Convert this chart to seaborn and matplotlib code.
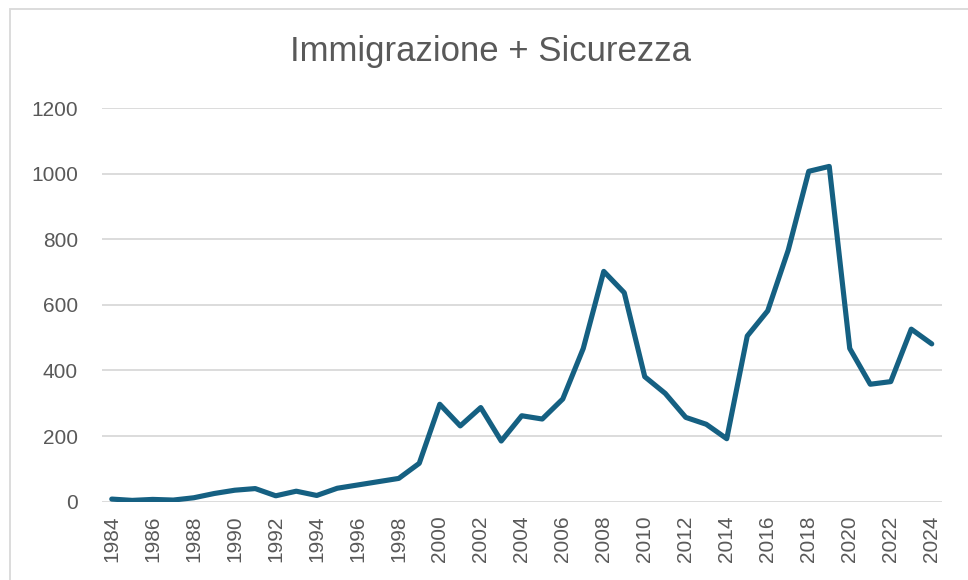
import matplotlib
matplotlib.use("Agg")
import matplotlib.pyplot as plt
import seaborn as sns
import pandas as pd
from matplotlib.patches import Rectangle

# dati
anni = list(range(1984, 2025))
valori = [8, 4, 7, 5, 12, 25, 35, 40, 18, 32, 19, 41, 51, 61, 71, 117,
          297, 231, 287, 185, 262, 252, 313, 467, 702, 637, 381, 330, 257, 236, 192,
          505, 582, 767, 1007, 1022, 467, 358, 366, 526, 481]
titolo = "Immigrazione + Sicurezza"

df = pd.DataFrame({"anno": anni, "valore": valori})

sns.set_style("white")
plt.rcParams['font.family'] = ['Liberation Sans', 'DejaVu Sans']

fig = plt.figure(figsize=(9.68, 5.80), dpi=100)
ax = fig.add_axes([101.5 / 968, 1 - 501.7 / 580, (942 - 101.5) / 968, (501.7 - 108) / 580])

sns.lineplot(data=df, x="anno", y="valore", ax=ax, color="#156082",
             linewidth=3.7, solid_joinstyle='round', solid_capstyle='round')

ax.set_xlim(1983.5, 2024.5)
ax.set_ylim(0, 1200)
ax.set_xticks(anni[::2])
ax.set_xticklabels([str(a) for a in anni[::2]], rotation=90)
ax.set_yticks(range(0, 1201, 200))
ax.tick_params(axis='both', length=0, labelsize=15, colors="#595959")
ax.tick_params(axis='y', pad=17)
ax.tick_params(axis='x', pad=10)
ax.set_xlabel("")
ax.set_ylabel("")
ax.grid(True, axis='y', color="#d9d9d9", linewidth=1.3)
ax.set_axisbelow(True)
for s in ax.spines.values():
    s.set_visible(False)

fig.text(490 / 968, 1 - 52 / 580, titolo, ha='center', va='center',
         fontsize=25, color="#595959")

# bordo dell'area grafico
fig.patches.append(Rectangle((10 / 968, -0.1), 1.2, 1 - 9 / 580 + 0.1,
                             transform=fig.transFigure, fill=False,
                             edgecolor="#d9d9d9", linewidth=1.3))

fig.savefig("out.png", dpi=100)
